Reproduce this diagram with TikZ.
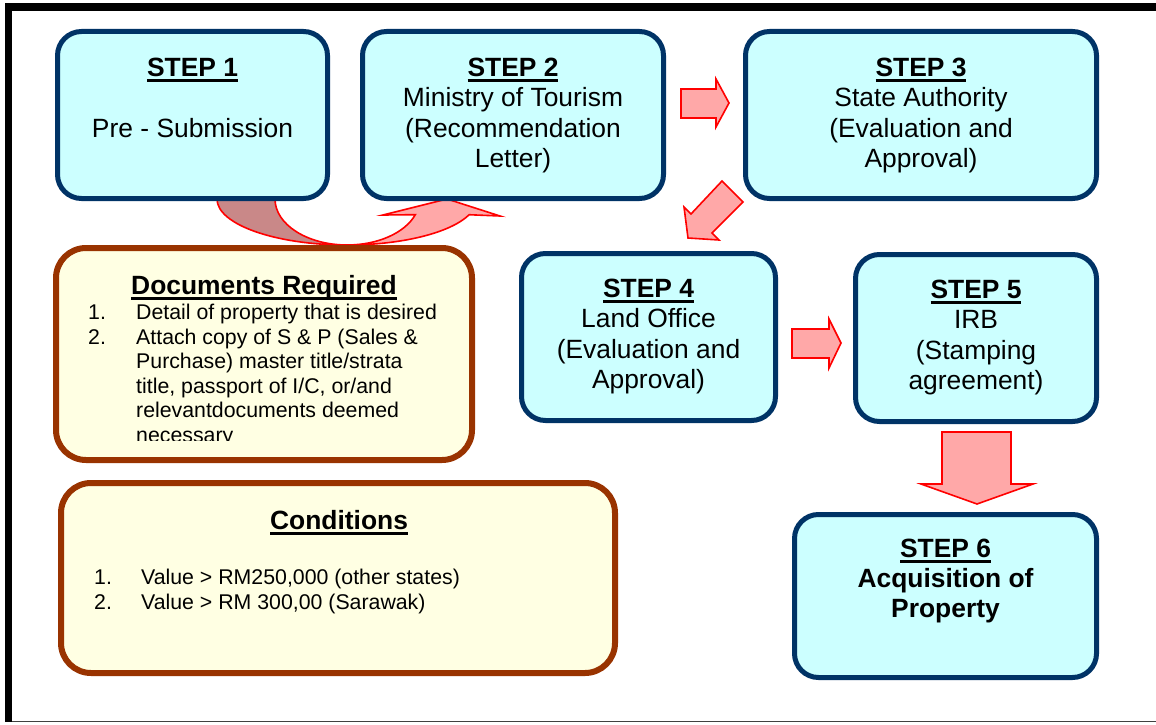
\documentclass[tikz,border=0pt]{standalone}
\usepackage{fontspec}
\setmainfont{Liberation Sans}
\definecolor{navy}{HTML}{003366}
\definecolor{stepfill}{HTML}{CCFFFF}
\definecolor{brownb}{HTML}{993300}
\definecolor{notefill}{HTML}{FFFFE3}
\definecolor{arrfill}{HTML}{FFA8A8}
\definecolor{arrdark}{HTML}{C98888}
\newcommand\myul[1]{\setbox0\hbox{#1}\rlap{\rule[-5.5pt]{\wd0}{2.2pt}}\box0}
\begin{document}
\begin{tikzpicture}[x=1pt,y=-1pt,
  stepbox/.style={draw=navy, line width=5pt, fill=stepfill, rounded corners=24pt,
    inner sep=0pt, outer sep=0pt, anchor=north west},
  notebox/.style={draw=brownb, line width=6pt, fill=notefill, rounded corners=30pt,
    inner sep=0pt, outer sep=0pt, anchor=north west},
  blockarrow/.style={draw=red, line width=1.6pt, fill=arrfill, line join=miter},
  darkarrow/.style={draw=red, line width=1.6pt, fill=arrdark, line join=miter},
  big/.style={font=\fontsize{26.4}{30}\selectfont, inner sep=0pt, anchor=base},
  small/.style={font=\fontsize{21.3}{24.6}\selectfont, inner sep=0pt, anchor=base west}]
\useasboundingbox (0,0) rectangle (1156,725);
% outer frame
\fill[black] (5,3.5) rectangle (1156,11);
\fill[black] (5,3.5) rectangle (12,722);
\fill[black!75] (12,720.5) rectangle (1156,722);

% curved arrow step1 -> step2
\draw[blockarrow] (347,245) arc[start angle=90, end angle=20, x radius=130, y radius=46]
  -- (500,216) -- (447,199) -- (383,215) -- (415.3,214.7)
  arc[start angle=20, end angle=90, x radius=72, y radius=46] -- cycle;
\draw[darkarrow] (217,199) arc[start angle=180, end angle=90, x radius=130, y radius=46]
  arc[start angle=90, end angle=180, x radius=72, y radius=46] -- cycle;

% step boxes
\node[stepbox, minimum width=270pt, minimum height=167pt] (s1) at (57.5,31.5) {};
\node[stepbox, minimum width=301pt, minimum height=167pt] (s2) at (362.5,31.5) {};
\node[stepbox, minimum width=351pt, minimum height=167pt] (s3) at (745.5,31.5) {};
\node[stepbox, minimum width=254pt, minimum height=167pt] (s4) at (521.5,253.5) {};
\node[stepbox, minimum width=241pt, minimum height=167pt] (s5) at (855.5,254.5) {};
\node[stepbox, minimum width=302pt, minimum height=163pt] (s6) at (794.5,514.5) {};

% note boxes
\node[notebox, minimum width=416pt, minimum height=212pt] (docs) at (56,248) {};
\node[notebox, minimum width=554pt, minimum height=190pt] (cond) at (61,483) {};

% straight block arrows
\draw[blockarrow] (681,89) -- (716,89) -- (716,79) -- (729,103) -- (716,127) -- (716,118) -- (681,118) -- cycle;
\draw[blockarrow] (722,181) -- (743,202) -- (712,233) -- (719,240) -- (688,238) -- (684,207) -- (691,214) -- cycle;
\draw[blockarrow] (792,329) -- (829,329) -- (829,319) -- (841,343) -- (829,368) -- (829,358) -- (792,358) -- cycle;
\draw[blockarrow] (942,432) -- (1011,432) -- (1011,484) -- (1033,484) -- (977,504) -- (921,484) -- (942,484) -- cycle;

% step texts
\node[big] (t1a) at (192.5,76) {\myul{\bfseries STEP 1}};
\node[big] (t1b) at (192.5,137) {Pre - Submission};

\node[big] (t2a) at (513,76) {\myul{\bfseries STEP 2}};
\node[big] (t2b) at (513,106.5) {Ministry of Tourism};
\node[big] (t2c) at (513,137) {(Recommendation};
\node[big] (t2d) at (513,167) {Letter)};

\node[big] (t3a) at (921,76) {\myul{\bfseries STEP 3}};
\node[big] (t3b) at (921,106.5) {State Authority};
\node[big] (t3c) at (921,137) {(Evaluation and};
\node[big] (t3d) at (921,167) {Approval)};

\node[big] (t4a) at (648.5,297) {\myul{\bfseries STEP 4}};
\node[big] (t4b) at (648.5,327) {Land Office};
\node[big] (t4c) at (648.5,358) {(Evaluation and};
\node[big] (t4d) at (648.5,388) {Approval)};

\node[big] (t5a) at (976,298) {\myul{\bfseries STEP 5}};
\node[big] (t5b) at (976,328.5) {IRB};
\node[big] (t5c) at (976,359) {(Stamping};
\node[big] (t5d) at (976,389.5) {agreement)};

\node[big] (t6a) at (945.5,557) {\myul{\bfseries STEP 6}};
\node[big] (t6b) at (945.5,587) {\bfseries Acquisition of};
\node[big] (t6c) at (945.5,617) {\bfseries Property};

% documents required
\node[big] (dtitle) at (264,294) {\myul{\bfseries Documents Required}};
\node[small] (dn1) at (88,319.5) {1.};
\node[small] (dn2) at (88,344.1) {2.};
\begin{scope}
\clip (60,250) rectangle (470,440.5);
\node[small] (dl1) at (136,319.5) {Detail of property that is desired};
\node[small] (dl2) at (136,344.1) {Attach copy of S \& P (Sales \&};
\node[small] (dl3) at (136,368.7) {Purchase) master title/strata};
\node[small] (dl4) at (136,393.3) {title, passport of I/C, or/and};
\node[small] (dl5) at (136,417.9) {relevantdocuments deemed};
\node[small] (dl6) at (136,442.5) {necessary};
\end{scope}

% conditions
\node[big] (ctitle) at (339,529) {\myul{\bfseries Conditions}};
\node[small] (cn1) at (94,584.5) {1.};
\node[small] (cn2) at (94,609.5) {2.};
\node[small] (cl1) at (141,584.5) {Value > RM250,000 (other states)};
\node[small] (cl2) at (141,609.5) {Value > RM 300,00 (Sarawak)};
\end{tikzpicture}
\end{document}
